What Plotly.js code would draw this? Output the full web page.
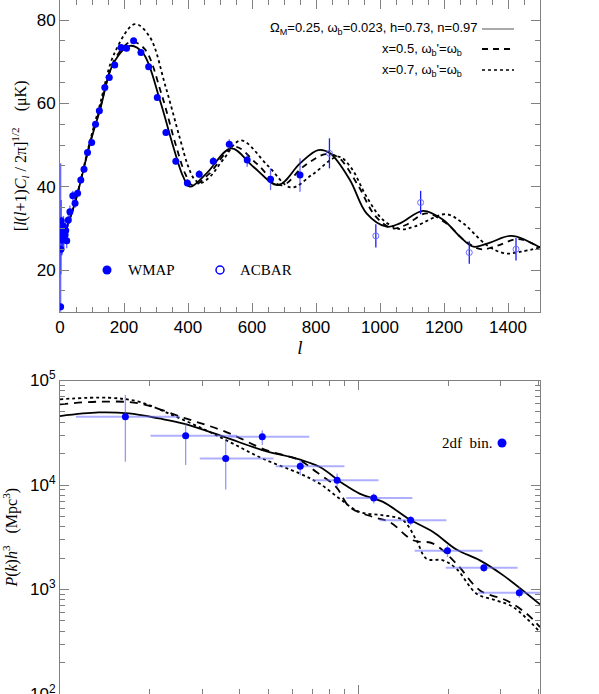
<!DOCTYPE html>
<html>
<head>
<meta charset="utf-8">
<script src="https://cdn.plot.ly/plotly-3.0.1.min.js"></script>
<style>
  html, body { margin: 0; padding: 0; background: #fff; overflow: hidden; }
  #plot { width: 599px; height: 694px; }
</style>
</head>
<body>
<div id="plot"></div>
<script>
// CMB spectrum, theory curves
const lSolid = [14, 50, 94, 125, 167, 219, 260, 312, 354, 385, 406, 458, 535, 604, 682, 750, 807, 844, 906, 958, 1021, 1062, 1135, 1198, 1250, 1292, 1344, 1411, 1500];
const cSolid = [28.5, 37.0, 50.4, 58.4, 69.6, 73.8, 72.0, 60.8, 49.6, 42.4, 40.0, 43.2, 49.2, 44.8, 40.4, 45.6, 48.8, 48.0, 41.6, 33.6, 30.4, 31.2, 34.2, 32.0, 28.0, 25.6, 26.6, 28.2, 25.4];

const lDash = [14, 50, 94, 125, 170, 222, 265, 318, 360, 392, 415, 465, 545, 615, 692, 760, 830, 870, 930, 985, 1038, 1080, 1145, 1210, 1265, 1315, 1365, 1432, 1500];
const cDash = [28.5, 37.0, 50.6, 58.8, 70.4, 74.8, 73.0, 62.0, 50.5, 43.0, 40.3, 43.0, 49.6, 45.5, 40.3, 44.8, 47.8, 47.0, 40.5, 33.0, 30.0, 30.8, 33.6, 31.0, 27.0, 25.0, 25.8, 27.4, 25.4];

const lDot = [14, 50, 94, 125, 170, 234, 280, 330, 375, 400, 420, 440, 470, 510, 565, 650, 722, 790, 870, 910, 958, 1010, 1065, 1110, 1205, 1260, 1333, 1390, 1440, 1500];
const cDot = [28.5, 37.2, 51.0, 59.8, 72.0, 79.0, 76.0, 64.0, 51.5, 45.0, 41.8, 40.9, 42.5, 46.5, 51.1, 45.0, 39.8, 43.0, 47.2, 44.5, 37.6, 32.0, 29.8, 30.5, 33.4, 31.2, 26.0, 24.0, 24.4, 25.4];

// WMAP band powers
const lWmap = [2, 3, 4, 5, 6, 7, 8, 9, 10, 11, 12, 14, 16, 18, 21, 26, 31, 40, 47, 55, 65, 75, 86, 99, 111, 123, 140, 154, 171, 191, 208, 230, 253, 277, 304, 331, 362, 398, 435, 479, 529, 585, 658, 750];
const cWmap = [11.2, 25.0, 31.8, 27.5, 28.8, 27.2, 29.5, 28.0, 28.6, 30.5, 27.6, 29.0, 28.4, 29.5, 27.0, 32.0, 34.0, 37.8, 36.0, 38.4, 41.6, 44.2, 48.2, 50.6, 55.0, 58.2, 63.8, 66.2, 69.2, 73.4, 73.2, 75.0, 72.2, 68.8, 61.4, 53.0, 46.1, 40.9, 43.0, 46.1, 50.2, 46.4, 41.8, 42.8];
const eWmapUp = [34.4, 6, 5, 4, 4, 3.5, 3, 3, 2.8, 2.5, 2.5, 2.2, 2, 2, 1.8, 1.6, 1.5, 1.2, 1.1, 1, 0.9, 0.8, 0.8, 0.8, 0.7, 0.7, 0.7, 0.7, 0.7, 0.7, 0.7, 0.7, 0.7, 0.7, 0.7, 0.7, 0.8, 0.9, 1.0, 1.1, 1.2, 1.6, 2.6, 4.0];
const eWmapDown = [1.2, 6, 5, 4, 4, 3.5, 3, 3, 2.8, 2.5, 2.5, 2.2, 2, 2, 1.8, 1.6, 1.5, 1.2, 1.1, 1, 0.9, 0.8, 0.8, 0.8, 0.7, 0.7, 0.7, 0.7, 0.7, 0.7, 0.7, 0.7, 0.7, 0.7, 0.7, 0.7, 0.8, 0.9, 1.0, 1.1, 1.2, 1.6, 2.6, 4.0];

// ACBAR band powers
const lAcbar = [842, 987, 1127, 1279, 1425];
const cAcbar = [48.0, 28.2, 36.2, 24.2, 25.0];
const eAcbar = [3.6, 2.8, 2.8, 2.7, 2.7];

// matter power spectrum, theory curves
const kSolid = [0.01, 0.01349, 0.0170, 0.02145, 0.02636, 0.0359, 0.0476, 0.0634, 0.0740, 0.0886, 0.1008, 0.1208, 0.1484, 0.1778, 0.2130, 0.2550, 0.3055, 0.4055];
const pSolid = [45700, 49500, 48400, 43350, 38300, 28500, 21600, 17550, 14930, 10330, 8280, 6890, 4670, 3550, 2410, 1900, 1365, 720];

const kDash = [0.01, 0.01349, 0.01837, 0.02636, 0.0359, 0.0490, 0.0634, 0.0721, 0.0841, 0.0933, 0.1117, 0.1271, 0.1522, 0.1778, 0.2128, 0.2553, 0.3133, 0.3660, 0.4055];
const pDash = [59200, 62700, 60400, 43350, 32300, 21600, 17300, 13370, 9600, 6170, 4940, 4430, 2960, 2750, 1766, 980, 785, 586, 437];

const kDot = [0.01, 0.01455, 0.01837, 0.02377, 0.03076, 0.03784, 0.0476, 0.0634, 0.0740, 0.0863, 0.1008, 0.1208, 0.1409, 0.1563, 0.1689, 0.1920, 0.2128, 0.2486, 0.2904, 0.3300, 0.4055];
const pDot = [66100, 68400, 62700, 46700, 33500, 25000, 17950, 12900, 10330, 7430, 5520, 5130, 4600, 2960, 1972, 1901, 1581, 912, 785, 678, 391];

// 2df bins
const k2df = [0.01656, 0.02636, 0.0359, 0.0476, 0.0638, 0.0848, 0.1125, 0.1495, 0.1986, 0.263, 0.3457];
const p2df = [44980, 29570, 17950, 28900, 15140, 11120, 7520, 4597, 2355, 1618, 931];
const kLo = [0.0113, 0.0201, 0.0294, 0.0366, 0.0528, 0.0702, 0.0910, 0.1177, 0.1542, 0.196, 0.2518];
const kHi = [0.0252, 0.0391, 0.0519, 0.0684, 0.0897, 0.1167, 0.1515, 0.197, 0.2604, 0.3413, 0.47];
const pLo = [16700, 15500, 9060, 24100, 12400, 9600, 6650, 4118, 2045, 1469, 834];
const pHi = [72600, 38900, 26900, 33500, 17300, 12880, 8280, 5020, 2650, 1766, 1054];

const W = 599, H = 694, ML = 60, MR = 59;
function px(x) { return (x - ML) / (W - ML - MR); }
function py(y) { return (H - y) / H; }

const axisGrey = '#808080';
const sans = 'Liberation Sans, Arial, sans-serif';
const serif = 'Liberation Serif, Times New Roman, serif';

function curve(x, y, dash, xa, ya) {
    return {
        x: x, y: y, xaxis: xa, yaxis: ya,
        mode: 'lines', line: { color: '#000', width: 1.8, dash: dash, shape: 'spline' },
        hoverinfo: 'skip'
    };
}

const traces = [
    curve(lSolid, cSolid, 'solid', 'x', 'y'),
    curve(lDash, cDash, '6px,5px', 'x', 'y'),
    curve(lDot, cDot, 'dot', 'x', 'y'),
    {
        x: lWmap, y: cWmap, xaxis: 'x', yaxis: 'y', mode: 'markers',
        marker: { color: '#0000ff', size: 7 },
        error_y: { type: 'data', symmetric: false, array: eWmapUp, arrayminus: eWmapDown, color: 'rgba(40,40,255,0.7)', thickness: 1.3, width: 0 }
    },
    {
        x: lAcbar, y: cAcbar, xaxis: 'x', yaxis: 'y', mode: 'markers',
        marker: { color: 'rgba(0,0,0,0)', size: 6, line: { color: '#6a6aff', width: 1 } },
        error_y: { type: 'data', array: eAcbar, color: '#1a1aff', thickness: 1.3, width: 0 }
    },
    curve(kSolid, pSolid, 'solid', 'x2', 'y2'),
    curve(kDash, pDash, '8px,6px', 'x2', 'y2'),
    curve(kDot, pDot, 'dot', 'x2', 'y2'),
    {
        x: k2df, y: p2df, xaxis: 'x2', yaxis: 'y2', mode: 'markers',
        marker: { color: '#0000ff', size: 7 },
        error_x: { type: 'data', symmetric: false,
            array: k2df.map((k, i) => kHi[i] - k), arrayminus: k2df.map((k, i) => k - kLo[i]),
            color: 'rgba(110,110,255,0.55)', thickness: 2, width: 0 },
        error_y: { type: 'data', symmetric: false,
            array: p2df.map((p, i) => pHi[i] - p), arrayminus: p2df.map((p, i) => p - pLo[i]),
            color: 'rgba(80,80,255,0.6)', thickness: 1.3, width: 0 }
    }
];

const baseAxis = {
    showline: true, linecolor: axisGrey, linewidth: 1, mirror: 'allticks',
    ticks: 'inside', ticklen: 9, tickcolor: axisGrey, tickwidth: 1,
    showgrid: false, zeroline: false, automargin: false,
    ticklabeloverflow: 'allow',
    tickfont: { family: sans, size: 17, color: '#000' }
};

const minorDecades = [];
[100, 1000, 10000].forEach(d => { for (let m = 2; m <= 9; m++) minorDecades.push(m * d); });
const minorK = [0.02, 0.03, 0.04, 0.05, 0.06, 0.07, 0.08, 0.09, 0.2, 0.3, 0.4];

const layout = {
    width: W, height: H,
    margin: { l: ML, r: MR, t: 0, b: 0 },
    paper_bgcolor: '#fff', plot_bgcolor: '#fff',
    showlegend: false,
    xaxis: Object.assign({}, baseAxis, {
        anchor: 'y', range: [0, 1500], tickvals: [0, 200, 400, 600, 800, 1000, 1200, 1400],
        minor: { ticks: 'inside', ticklen: 5, dtick: 50, tick0: 0, tickcolor: axisGrey },
        title: { text: '<i>l</i>', font: { family: serif, size: 19, color: '#000' }, standoff: 2 }
    }),
    yaxis: Object.assign({}, baseAxis, {
        domain: [py(311.7), 1], range: [10, 84.8], tickvals: [20, 40, 60, 80],
        minor: { ticks: 'inside', ticklen: 5, dtick: 5, tick0: 0, tickcolor: axisGrey },
        title: { text: '[<i>l</i>(<i>l</i>+1)<i>C<sub>l</sub></i> / 2π]<sup>1/2</sup>    (μK)', font: { family: serif, size: 16, color: '#000' }, standoff: 6 }
    }),
    xaxis2: Object.assign({}, baseAxis, {
        anchor: 'y2', type: 'log', range: [-2, Math.log10(0.4055)], tickvals: [0.01, 0.1],
        showticklabels: false,
        minor: { ticks: 'inside', ticklen: 5, tickvals: minorK, tickcolor: axisGrey }
    }),
    yaxis2: Object.assign({}, baseAxis, {
        domain: [0, py(380.5)], type: 'log', range: [2, 5],
        tickvals: [100, 1000, 10000, 100000],
        ticktext: ['10<sup>2</sup>', '10<sup>3</sup>', '10<sup>4</sup>', '10<sup>5</sup>'],
        minor: { ticks: 'inside', ticklen: 5, tickvals: minorDecades, tickcolor: axisGrey },
        title: { text: '<i>P</i>(<i>k</i>)<i>h</i><sup>3</sup>   (Mpc<sup>3</sup>)', font: { family: serif, size: 16, color: '#000' }, standoff: 8 }
    }),
    annotations: [
        { xref: 'paper', yref: 'paper', x: px(479), y: py(29), xanchor: 'right', yanchor: 'middle', showarrow: false,
          text: 'Ω<sub>M</sub>=0.25, ω<sub>b</sub>=0.023, h=0.73, n=0.97', font: { family: sans, size: 13, color: '#000' } },
        { xref: 'paper', yref: 'paper', x: px(464), y: py(49), xanchor: 'right', yanchor: 'middle', showarrow: false,
          text: "x=0.5, ω<sub>b</sub>'=ω<sub>b</sub>", font: { family: sans, size: 13, color: '#000' } },
        { xref: 'paper', yref: 'paper', x: px(464), y: py(70), xanchor: 'right', yanchor: 'middle', showarrow: false,
          text: "x=0.7, ω<sub>b</sub>'=ω<sub>b</sub>", font: { family: sans, size: 13, color: '#000' } },
        { xref: 'paper', yref: 'paper', x: px(126), y: py(270), xanchor: 'left', yanchor: 'middle', showarrow: false,
          text: 'WMAP', font: { family: serif, size: 15, color: '#000' } },
        { xref: 'paper', yref: 'paper', x: px(238), y: py(270), xanchor: 'left', yanchor: 'middle', showarrow: false,
          text: 'ACBAR', font: { family: serif, size: 15, color: '#000' } },
        { xref: 'paper', yref: 'paper', x: px(494), y: py(443), xanchor: 'right', yanchor: 'middle', showarrow: false,
          text: '2df&nbsp; bin.', font: { family: serif, size: 15, color: '#000' } }
    ],
    shapes: [
        { type: 'line', xref: 'paper', yref: 'paper', x0: px(482), x1: px(514), y0: py(29), y1: py(29), line: { color: '#555', width: 1 } },
        { type: 'line', xref: 'paper', yref: 'paper', x0: px(482), x1: px(514), y0: py(49), y1: py(49), line: { color: '#000', width: 2, dash: '6px,5px' } },
        { type: 'line', xref: 'paper', yref: 'paper', x0: px(482), x1: px(514), y0: py(70), y1: py(70), line: { color: '#000', width: 1.5, dash: 'dot' } },
        { type: 'circle', xref: 'paper', yref: 'paper', x0: px(102.5), x1: px(111.5), y0: py(265.5), y1: py(274.5), fillcolor: '#0000ff', line: { width: 0 } },
        { type: 'circle', xref: 'paper', yref: 'paper', x0: px(216), x1: px(224), y0: py(266), y1: py(274), line: { color: '#0000ff', width: 1.5 } },
        { type: 'circle', xref: 'paper', yref: 'paper', x0: px(497.5), x1: px(506.5), y0: py(438.5), y1: py(447.5), fillcolor: '#0000ff', line: { width: 0 } }
    ]
};

Plotly.newPlot('plot', traces, layout, { staticPlot: true, displayModeBar: false });
</script>
</body>
</html>
